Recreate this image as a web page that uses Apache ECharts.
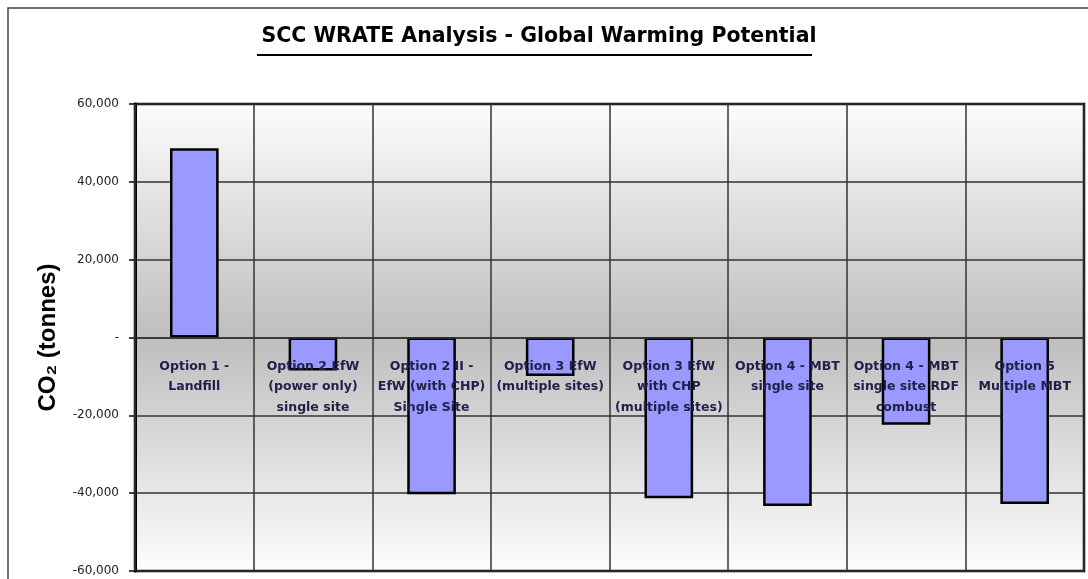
<!DOCTYPE html>
<html>
<head>
<meta charset="utf-8">
<script src="https://cdn.jsdelivr.net/npm/echarts@6/dist/echarts.min.js"></script>
<style>
html,body{margin:0;padding:0;background:#fff;}
#c{width:1088px;height:579px;}
</style>
</head>
<body>
<div id="c"></div>
<script>
const chartTitle = 'SCC WRATE Analysis - Global Warming Potential';
const yAxisName = 'CO\u2082 (tonnes)';
const categories = [
  'Option 1 -\nLandfill',
  'Option 2 EfW\n(power only)\nsingle site',
  'Option 2 II -\nEfW (with CHP)\nSingle Site',
  'Option 3 EfW\n(multiple sites)',
  'Option 3 EfW\nwith CHP\n(multiple sites)',
  'Option 4 - MBT\nsingle site',
  'Option 4 - MBT\nsingle site RDF\ncombust',
  'Option 5\nMultiple MBT'
];
const co2Values = [48600, -8500, -40300, -9900, -41300, -43300, -22400, -42800];
const yTicks = { min: -60000, max: 60000, interval: 20000 };

const chart = echarts.init(document.getElementById('c'));
function fmt(v) {
  if (v === 0) return '-';
  const s = Math.abs(v).toString().replace(/\B(?=(\d{3})+(?!\d))/g, ',');
  return (v < 0 ? '-' : '') + s;
}
chart.setOption({
  animation: false,
  backgroundColor: '#ffffff',
  title: {
    text: chartTitle,
    left: 534,
    top: 21,
    textAlign: 'center',
    textStyle: { fontFamily: 'DejaVu Sans', fontWeight: 'bold', fontSize: 20.5, color: '#000' }
  },
  graphic: [
    { type: 'rect', z: -10, shape: { x: 8, y: 8, width: 1200, height: 700 },
      style: { fill: 'none', stroke: '#444', lineWidth: 1.5 } },
    { type: 'line', shape: { x1: 257, y1: 55, x2: 812, y2: 55 },
      style: { stroke: '#000', lineWidth: 2 } }
  ],
  grid: {
    left: 135, top: 104, right: 4, bottom: 8,
    containLabel: false,
    outerBoundsMode: 'none',
    show: true,
    borderColor: '#000',
    borderWidth: 2.5,
    backgroundColor: new echarts.graphic.LinearGradient(0, 0, 0, 1, [
      { offset: 0, color: '#fdfdfd' },
      { offset: 0.5, color: '#bebebe' },
      { offset: 1, color: '#fdfdfd' }
    ])
  },
  xAxis: {
    type: 'category',
    data: categories,
    z: 10,
    axisLine: { onZero: true, lineStyle: { color: '#333', width: 1.5 } },
    axisTick: { show: false },
    splitLine: { show: true, lineStyle: { color: '#333', width: 1.5 } },
    axisLabel: {
      interval: 0,
      margin: -215,
      hideOverlap: false,
      fontFamily: 'DejaVu Sans',
      fontWeight: 'bold',
      fontSize: 12.5,
      lineHeight: 20.5,
      color: '#20204a'
    }
  },
  yAxis: {
    type: 'value',
    min: yTicks.min, max: yTicks.max, interval: yTicks.interval,
    name: yAxisName,
    nameLocation: 'middle',
    nameGap: 75,
    nameRotate: 90,
    nameTextStyle: { fontFamily: 'Liberation Sans', fontWeight: 'bold', fontSize: 24, color: '#000' },
    axisLine: { show: true, lineStyle: { color: '#000', width: 3 } },
    axisTick: { show: true, length: 6, lineStyle: { color: '#000', width: 1.5 } },
    splitLine: { show: true, lineStyle: { color: '#333', width: 1.5 } },
    axisLabel: {
      margin: 16,
      fontFamily: 'DejaVu Sans',
      fontSize: 12,
      color: '#222',
      formatter: fmt
    }
  },
  series: [{
    type: 'bar',
    data: co2Values,
    barWidth: '41%',
    itemStyle: { color: '#9999ff', borderColor: '#000', borderWidth: 2.5 }
  }]
});
</script>
</body>
</html>
